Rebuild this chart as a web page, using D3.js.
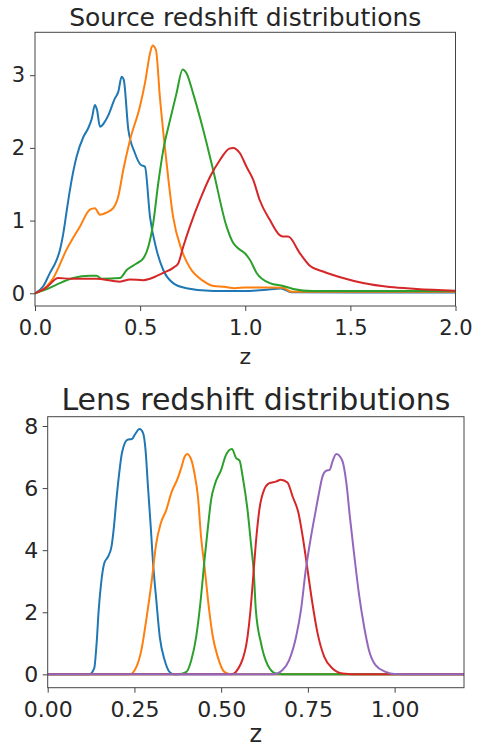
<!DOCTYPE html>
<html>
<head>
<meta charset="utf-8">
<script src="https://cdn.jsdelivr.net/npm/d3@7"></script>
<style>
  body { margin: 0; background: #fff; }
  text { font-family: "DejaVu Sans", sans-serif; fill: #262626; }
</style>
</head>
<body>
<script>
// source n(z) as [z, n] pairs
var srcBlue = [[0,0],[0.04,0.1],[0.071,0.28],[0.103,0.46],[0.119,0.6],[0.135,0.83],[0.15,1.12],[0.166,1.42],[0.198,1.88],[0.23,2.15],[0.253,2.27],[0.27,2.4],[0.285,2.59],[0.295,2.52],[0.309,2.29],[0.33,2.35],[0.349,2.45],[0.38,2.68],[0.396,2.77],[0.412,2.98],[0.422,2.94],[0.444,2.25],[0.475,1.93],[0.502,1.77],[0.523,1.74],[0.547,1.05],[0.578,0.6],[0.61,0.32],[0.657,0.14],[0.72,0.07],[0.85,0.03],[1.0,0.03],[1.1,0.05],[1.17,0.065],[1.22,0.015],[1.5,0.01],[2.0,0.01]];
var srcOrange = [[0,0],[0.05,0.08],[0.087,0.21],[0.15,0.6],[0.214,0.92],[0.261,1.15],[0.285,1.17],[0.309,1.08],[0.34,1.11],[0.372,1.17],[0.396,1.33],[0.42,1.7],[0.452,2.11],[0.499,2.57],[0.523,2.89],[0.547,3.3],[0.559,3.41],[0.575,3.35],[0.594,2.7],[0.626,1.79],[0.657,1.05],[0.697,0.6],[0.737,0.35],[0.8,0.17],[0.85,0.1],[0.9,0.09],[0.95,0.07],[1.0,0.08],[1.1,0.08],[1.18,0.075],[1.22,0.02],[1.5,0.02],[2.0,0.02]];
var srcGreen = [[0,0],[0.05,0.05],[0.103,0.12],[0.182,0.21],[0.261,0.24],[0.293,0.24],[0.317,0.2],[0.404,0.21],[0.436,0.32],[0.483,0.41],[0.515,0.48],[0.539,0.64],[0.562,0.96],[0.586,1.51],[0.61,1.97],[0.642,2.38],[0.673,2.75],[0.702,3.08],[0.72,3.03],[0.752,2.75],[0.8,2.25],[0.847,1.7],[0.911,0.92],[0.943,0.69],[0.975,0.6],[0.998,0.55],[1.022,0.46],[1.054,0.28],[1.117,0.14],[1.18,0.1],[1.228,0.06],[1.32,0.03],[2.0,0.03]];
var srcRed = [[0,0],[0.05,0.07],[0.111,0.21],[0.166,0.2],[0.293,0.2],[0.372,0.17],[0.404,0.16],[0.452,0.19],[0.515,0.18],[0.547,0.2],[0.61,0.28],[0.657,0.35],[0.681,0.41],[0.705,0.64],[0.737,0.92],[0.784,1.28],[0.832,1.6],[0.879,1.83],[0.924,1.99],[0.943,2.0],[0.974,1.93],[1.006,1.74],[1.038,1.56],[1.069,1.28],[1.117,1.01],[1.164,0.8],[1.18,0.78],[1.204,0.78],[1.26,0.55],[1.307,0.38],[1.37,0.3],[1.465,0.21],[1.56,0.14],[1.687,0.085],[1.814,0.06],[2.0,0.035]];

// lens n(z)
var lensBlue = [[0,0],[0.12,0],[0.134,0.19],[0.141,1.0],[0.147,2.07],[0.153,2.83],[0.163,3.58],[0.174,3.79],[0.184,4.12],[0.191,4.76],[0.198,5.62],[0.205,6.37],[0.214,7.13],[0.23,7.56],[0.243,7.58],[0.251,7.72],[0.265,7.9],[0.275,7.77],[0.282,7.23],[0.289,6.05],[0.297,4.76],[0.303,3.69],[0.313,2.4],[0.323,1.21],[0.337,0.46],[0.351,0.08],[0.366,0],[1.2,0]];
var lensOrange = [[0,0],[0.236,0],[0.256,0.25],[0.27,0.78],[0.284,1.75],[0.299,2.94],[0.313,4.23],[0.326,4.87],[0.342,5.3],[0.356,5.84],[0.375,6.32],[0.385,6.65],[0.395,7.02],[0.402,7.1],[0.414,6.91],[0.423,6.48],[0.433,5.73],[0.442,4.44],[0.452,3.47],[0.462,2.4],[0.476,1.21],[0.49,0.57],[0.509,0.08],[0.53,0],[1.2,0]];
var lensGreen = [[0,0],[0.375,0],[0.4,0.08],[0.414,0.46],[0.428,1.21],[0.442,2.5],[0.452,3.69],[0.462,4.76],[0.471,5.62],[0.483,6.16],[0.5,6.59],[0.514,7.07],[0.531,7.26],[0.543,6.97],[0.553,6.89],[0.562,6.37],[0.576,5.3],[0.586,4.2],[0.594,3.3],[0.6,2.07],[0.615,1.0],[0.634,0.3],[0.658,0.03],[0.7,0],[1.2,0]];
var lensRed = [[0,0],[0.529,0],[0.557,0.35],[0.576,1.21],[0.584,2.0],[0.591,2.94],[0.6,4.23],[0.61,5.3],[0.624,5.95],[0.639,6.16],[0.658,6.21],[0.672,6.27],[0.691,6.18],[0.706,5.73],[0.723,5.19],[0.735,4.44],[0.749,3.37],[0.763,2.29],[0.778,1.32],[0.797,0.57],[0.821,0.19],[0.85,0.03],[0.9,0],[1.2,0]];
var lensPurple = [[0,0],[0.65,0],[0.677,0.14],[0.696,0.46],[0.716,1.21],[0.73,2.07],[0.744,3.37],[0.759,4.44],[0.773,5.3],[0.782,5.84],[0.792,6.37],[0.803,6.56],[0.813,6.59],[0.821,6.86],[0.832,7.1],[0.849,6.89],[0.861,6.16],[0.871,5.08],[0.883,3.9],[0.897,2.61],[0.912,1.54],[0.926,0.78],[0.945,0.3],[0.974,0.08],[1.0,0.01],[1.2,0]];

var colors = ["#1f77b4", "#ff7f0e", "#2ca02c", "#d62728", "#9467bd"];

var srcXTicks = [0, 0.5, 1.0, 1.5, 2.0];
var srcYTicks = [0, 1, 2, 3];
var lensXTicks = [0, 0.25, 0.5, 0.75, 1.0];
var lensYTicks = [0, 2, 4, 6, 8];

var svg = d3.select("body").append("svg")
  .attr("width", 482)
  .attr("height", 744);

function panel(o) {
  var x = d3.scaleLinear().domain(o.xdom).range([o.left, o.right]);
  var y = d3.scaleLinear().domain(o.ydom).range([o.bottom, o.top]);
  var g = svg.append("g");

  g.append("clipPath").attr("id", o.id)
    .append("rect")
    .attr("x", o.left).attr("y", o.top)
    .attr("width", o.right - o.left).attr("height", o.bottom - o.top);

  var line = d3.line()
    .x(function(d) { return x(d[0]); })
    .y(function(d) { return y(d[1]); })
    .curve(d3.curveMonotoneX);

  g.append("g").attr("clip-path", "url(#" + o.id + ")")
    .selectAll("path")
    .data(o.series)
    .enter()
    .append("path")
    .attr("d", line)
    .attr("fill", "none")
    .attr("stroke", function(d, i) { return colors[i]; })
    .attr("stroke-width", 2)
    .attr("stroke-linejoin", "round");

  // frame
  g.append("rect")
    .attr("x", o.left).attr("y", o.top)
    .attr("width", o.right - o.left).attr("height", o.bottom - o.top)
    .attr("fill", "none").attr("stroke", "#444").attr("stroke-width", 1);

  var xa = g.append("g")
    .attr("transform", "translate(0," + o.bottom + ")")
    .call(d3.axisBottom(x).tickValues(o.xticks).tickFormat(d3.format(o.xfmt)).tickSize(5).tickPadding(9));
  var ya = g.append("g")
    .attr("transform", "translate(" + o.left + ",0)")
    .call(d3.axisLeft(y).tickValues(o.yticks).tickFormat(d3.format("d")).tickSize(5).tickPadding(o.ypad));
  [xa, ya].forEach(function(a) {
    a.select(".domain").remove();
    a.selectAll("line").attr("stroke", "#444");
    a.selectAll("text").attr("font-size", o.tickFont).attr("fill", "#262626")
      .style("font-family", "DejaVu Sans");
  });

  g.append("text")
    .attr("x", (o.left + o.right) / 2).attr("y", o.titleY)
    .attr("text-anchor", "middle").attr("font-size", o.titleFont)
    .text(o.title);
  g.append("text")
    .attr("x", (o.left + o.right) / 2).attr("y", o.labelY)
    .attr("text-anchor", "middle").attr("font-size", o.labelFont)
    .text("z");
}

panel({
  id: "clipSrc", left: 35, right: 455.5, top: 32.3, bottom: 306,
  xdom: [0, 2], ydom: [-0.175, 3.59],
  series: [srcBlue, srcOrange, srcGreen, srcRed],
  xticks: srcXTicks, yticks: srcYTicks, xfmt: ".1f", ypad: 5,
  tickFont: 21, title: "Source redshift distributions", titleY: 26, titleFont: 25,
  labelY: 364, labelFont: 22
});

panel({
  id: "clipLens", left: 47.7, right: 464, top: 416.7, bottom: 687.7,
  xdom: [0, 1.2], ydom: [-0.43, 8.3],
  series: [lensBlue, lensOrange, lensGreen, lensRed, lensPurple],
  xticks: lensXTicks, yticks: lensYTicks, xfmt: ".2f", ypad: 4.5,
  tickFont: 22, title: "Lens redshift distributions", titleY: 410, titleFont: 30,
  labelY: 742, labelFont: 24
});
</script>
</body>
</html>
